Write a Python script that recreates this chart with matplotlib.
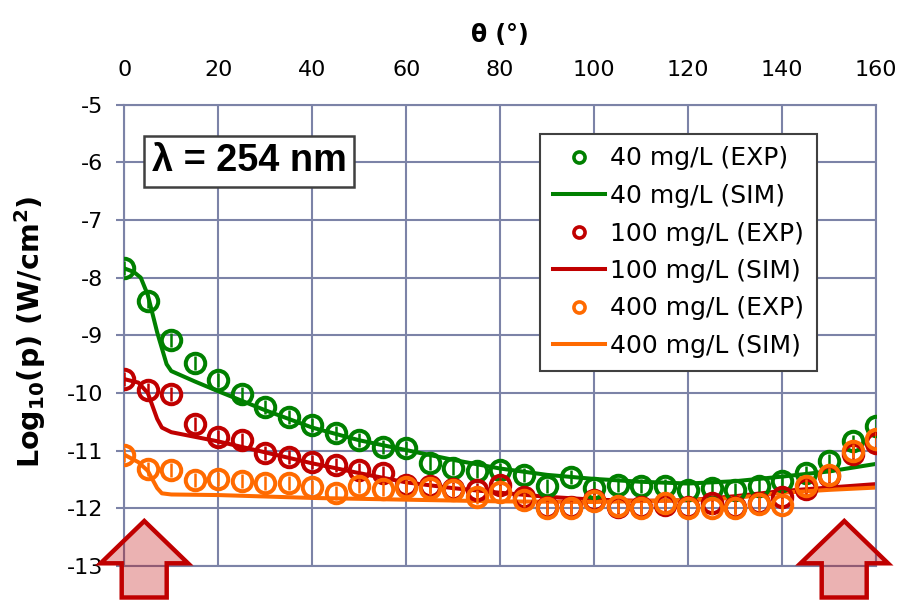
import numpy as np
import matplotlib
matplotlib.use("Agg")
import matplotlib.pyplot as plt
from matplotlib.lines import Line2D
from matplotlib.patches import Polygon

plt.rcParams["axes.unicode_minus"] = False

# Scattering angle of the measured points (degrees)
theta_exp = [0, 5, 10, 15, 20, 25, 30, 35, 40, 45, 50, 55, 60, 65, 70, 75, 80,
             85, 90, 95, 100, 105, 110, 115, 120, 125, 130, 135, 140, 145, 150,
             155, 160]

# log10 of measured power (W/cm^2)
exp_40 = [-7.84, -8.40, -9.08, -9.48, -9.77, -10.02, -10.24, -10.42, -10.55,
          -10.70, -10.82, -10.93, -10.96, -11.22, -11.30, -11.35, -11.33,
          -11.42, -11.61, -11.46, -11.65, -11.59, -11.61, -11.61, -11.68,
          -11.65, -11.68, -11.61, -11.53, -11.39, -11.18, -10.84, -10.57]
exp_100 = [-9.76, -9.95, -10.02, -10.54, -10.77, -10.81, -11.04, -11.11,
           -11.19, -11.25, -11.34, -11.39, -11.60, -11.62, -11.66, -11.68,
           -11.60, -11.80, -11.97, -11.98, -11.85, -11.97, -11.98, -11.94,
           -11.97, -11.91, -11.97, -11.90, -11.80, -11.67, -11.44, -11.05,
           -10.86]
exp_400 = [-11.07, -11.32, -11.33, -11.51, -11.49, -11.52, -11.56, -11.56,
           -11.63, -11.73, -11.61, -11.67, -11.63, -11.65, -11.68, -11.80,
           -11.71, -11.85, -12.00, -12.00, -11.88, -11.96, -12.00, -11.91,
           -12.00, -12.00, -12.00, -11.92, -11.94, -11.61, -11.42, -11.01,
           -10.80]
exp_err = 0.12

# Simulated curves
theta_sim_40 = [0, 2, 3.5, 5, 7, 9, 10, 15, 20, 30, 40, 50, 60, 70, 80, 90,
                100, 110, 120, 130, 140, 150, 160]
sim_40 = [-7.84, -7.90, -8.00, -8.30, -8.95, -9.50, -9.62, -9.80, -9.97,
          -10.30, -10.60, -10.82, -10.99, -11.16, -11.31, -11.42, -11.49,
          -11.54, -11.57, -11.53, -11.45, -11.36, -11.23]
theta_sim_100 = [0, 3, 5, 7, 8, 10, 20, 30, 40, 50, 60, 70, 80, 90, 100, 110,
                 120, 130, 140, 150, 160]
sim_100 = [-9.76, -9.82, -10.00, -10.45, -10.60, -10.68, -10.84, -11.03,
           -11.22, -11.39, -11.55, -11.65, -11.73, -11.80, -11.85, -11.87,
           -11.86, -11.79, -11.70, -11.64, -11.58]
theta_sim_400 = [0, 3, 5, 7, 8, 10, 20, 40, 60, 80, 100, 120, 130, 140, 150,
                 160]
sim_400 = [-11.07, -11.20, -11.35, -11.65, -11.74, -11.76, -11.77, -11.82,
           -11.85, -11.88, -11.89, -11.86, -11.82, -11.73, -11.68, -11.64]

x_ticks = [0, 20, 40, 60, 80, 100, 120, 140, 160]
y_ticks = [-5, -6, -7, -8, -9, -10, -11, -12, -13]

GREEN = "#008000"
RED = "#C00000"
ORANGE = "#FF6A00"
GRID = "#7C83A7"

W, H = 897, 601
AX_L, AX_R, AX_T, AX_B = 124.3, 876.0, 104.6, 566.0
fig = plt.figure(figsize=(W / 100, H / 100), dpi=100)
ax = fig.add_axes([AX_L / W, 1 - AX_B / H, (AX_R - AX_L) / W, (AX_B - AX_T) / H])


def ax_frac(px, py):
    return (px - AX_L) / (AX_R - AX_L), (AX_B - py) / (AX_B - AX_T)


ax.set_xlim(0, 160)
ax.set_ylim(-13, -5)
ax.set_xticks(x_ticks)
ax.set_yticks(y_ticks)
ax.xaxis.tick_top()
ax.xaxis.set_label_position("top")
ax.grid(True, color=GRID, linewidth=1.5, zorder=0)
ax.set_axisbelow(True)
for s in ax.spines.values():
    s.set_color(GRID)
    s.set_linewidth(1.5)
ax.tick_params(axis="y", direction="out", length=6, width=1.5, color=GRID,
               pad=9, labelsize=16)
ax.tick_params(axis="x", length=0, pad=18, labelsize=16)

tick_font = "DejaVu Sans"
for lab in ax.get_xticklabels() + ax.get_yticklabels():
    lab.set_family(tick_font)

ax.set_xlabel("θ (°)", fontsize=17, fontweight="bold", family="DejaVu Sans")
ax.xaxis.set_label_coords(*ax_frac(500, 42))
ax.set_ylabel(r"Log$_{\mathbf{10}}$(p) (W/cm$^{\mathbf{2}}$)", fontsize=20.5,
              fontweight="bold", family="DejaVu Sans")
ax.yaxis.set_label_coords(*ax_frac(48, 332))

series = [
    ("40 mg/L", exp_40, theta_sim_40, sim_40, GREEN),
    ("100 mg/L", exp_100, theta_sim_100, sim_100, RED),
    ("400 mg/L", exp_400, theta_sim_400, sim_400, ORANGE),
]

handles, labels = [], []
for i, (name, ev, ts, sv, col) in enumerate(series):
    ax.plot(ts, sv, color=col, linewidth=2.9, zorder=2 + i * 0.1,
            solid_capstyle="round")
for i, (name, ev, ts, sv, col) in enumerate(series):
    ax.errorbar(theta_exp, ev, yerr=exp_err, fmt="o", ms=14, mfc="none",
                mec=col, mew=2.9, ecolor=col, elinewidth=1.8, capsize=0,
                zorder=3 + i * 0.1)
    handles.append(Line2D([], [], ls="none", marker="o", ms=8, mfc="none",
                          mec=col, mew=2.6))
    labels.append(f"{name} (EXP)")
    handles.append(Line2D([], [], color=col, linewidth=2.9))
    labels.append(f"{name} (SIM)")

leg = ax.legend(handles, labels, loc="upper right",
                bbox_to_anchor=ax_frac(816.7, 134),
                borderaxespad=0, fancybox=False, framealpha=1,
                edgecolor="#404040", handlelength=2.1, handletextpad=0.2,
                labelspacing=0.54, borderpad=0.5,
                prop={"family": tick_font, "size": 18})
leg.get_frame().set_linewidth(1.5)
leg.set_zorder(10)

ax.text(*ax_frac(249.2, 161.3), "λ = 254 nm",
        transform=ax.transAxes, ha="center", va="center", fontsize=27.3,
        fontweight="bold", family="Liberation Sans", zorder=10,
        bbox=dict(boxstyle="square,pad=0.2", facecolor="white",
                  edgecolor="#404040", linewidth=1.8))

# Upward arrows marking the forward and backward directions
arrow_px = [(144.3, 521), (188, 563.3), (166.7, 563.3), (166.7, 597.5),
            (121.7, 597.5), (121.7, 563.3), (100.6, 563.3)]
for dx in (0, 700):
    pts = [((x + dx) / W, 1 - y / H) for x, y in arrow_px]
    fig.patches.append(Polygon(pts, closed=True, transform=fig.transFigure,
                               facecolor=(0.753, 0.0, 0.0, 0.3),
                               edgecolor=RED, linewidth=3.2, joinstyle="miter",
                               zorder=20))

fig.savefig("out.png", dpi=100)
